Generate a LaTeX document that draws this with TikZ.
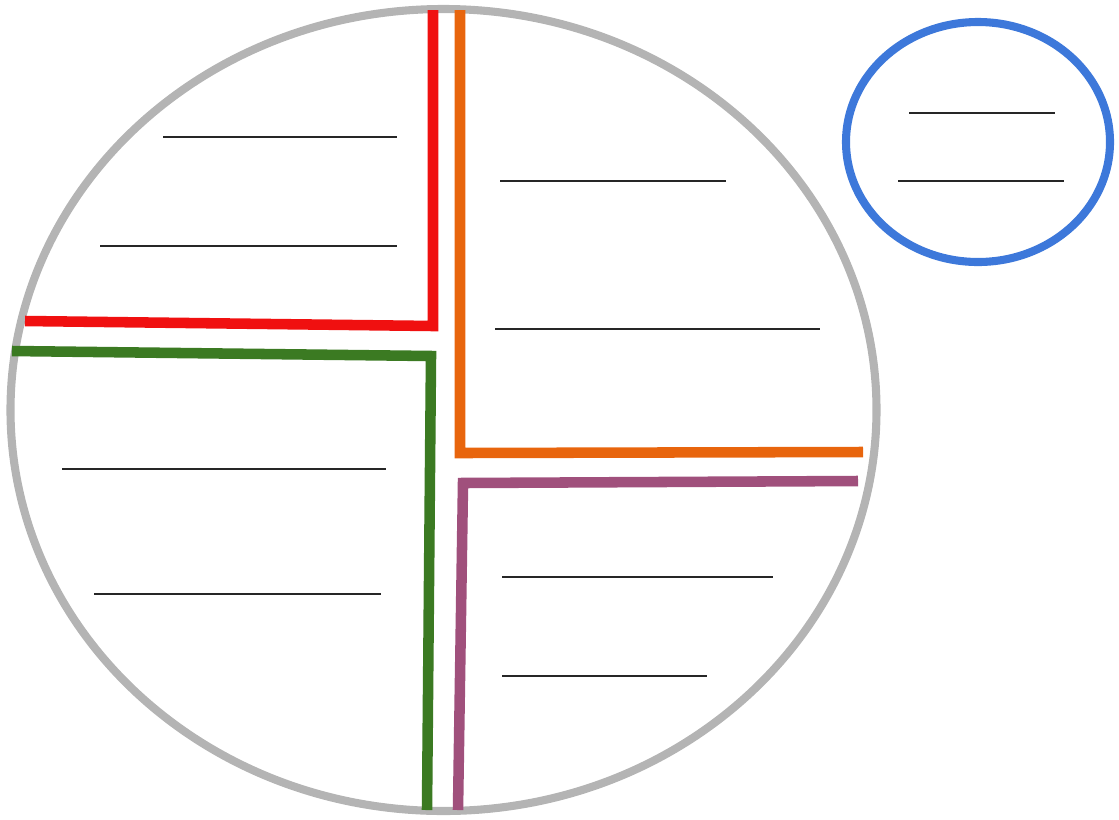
\documentclass[tikz,border=0pt]{standalone}
\definecolor{RimGray}{HTML}{B4B4B4}
\definecolor{QuadRed}{HTML}{F01010}
\definecolor{QuadOrange}{HTML}{E8650D}
\definecolor{QuadGreen}{HTML}{3B7A22}
\definecolor{QuadPurple}{HTML}{A0507C}
\definecolor{SideBlue}{HTML}{3D78DA}
\usepackage{tikz}
\usetikzlibrary{positioning,calc}

\begin{document}
\begin{tikzpicture}[x=0.02cm,y=-0.02cm]
  \useasboundingbox (0,0) rectangle (1119,819);
  \tikzset{wall/.style={line width=6pt,line join=miter},
           blank/.style={line width=1.1pt,black!85}}
  % outer circle
  \draw[RimGray,line width=4.6pt] (443.5,410) ellipse [x radius=433, y radius=401];
  % side circle
  \draw[SideBlue,line width=4.6pt] (978,142) ellipse [x radius=132, y radius=120];
  % quadrant walls
  \draw[wall,QuadRed] (433,10) -- (433,326) -- (25,321);
  \draw[wall,QuadOrange] (460,10) -- (460,453) -- (863,452);
  \draw[wall,QuadGreen] (12,351) -- (431,356) -- (427,810);
  \draw[wall,QuadPurple] (858,481) -- (463,483) -- (458,810);
  % blanks
  \foreach \xa/\xb/\y in {163/397/137,100/397/246,500/726/181,495/820/329,
                          62/386/469,94/381/594,502/773/577,502/707/676,
                          909/1055/113,898/1064/181}
    \draw[blank] (\xa,\y) -- (\xb,\y);
\end{tikzpicture}
\end{document}
